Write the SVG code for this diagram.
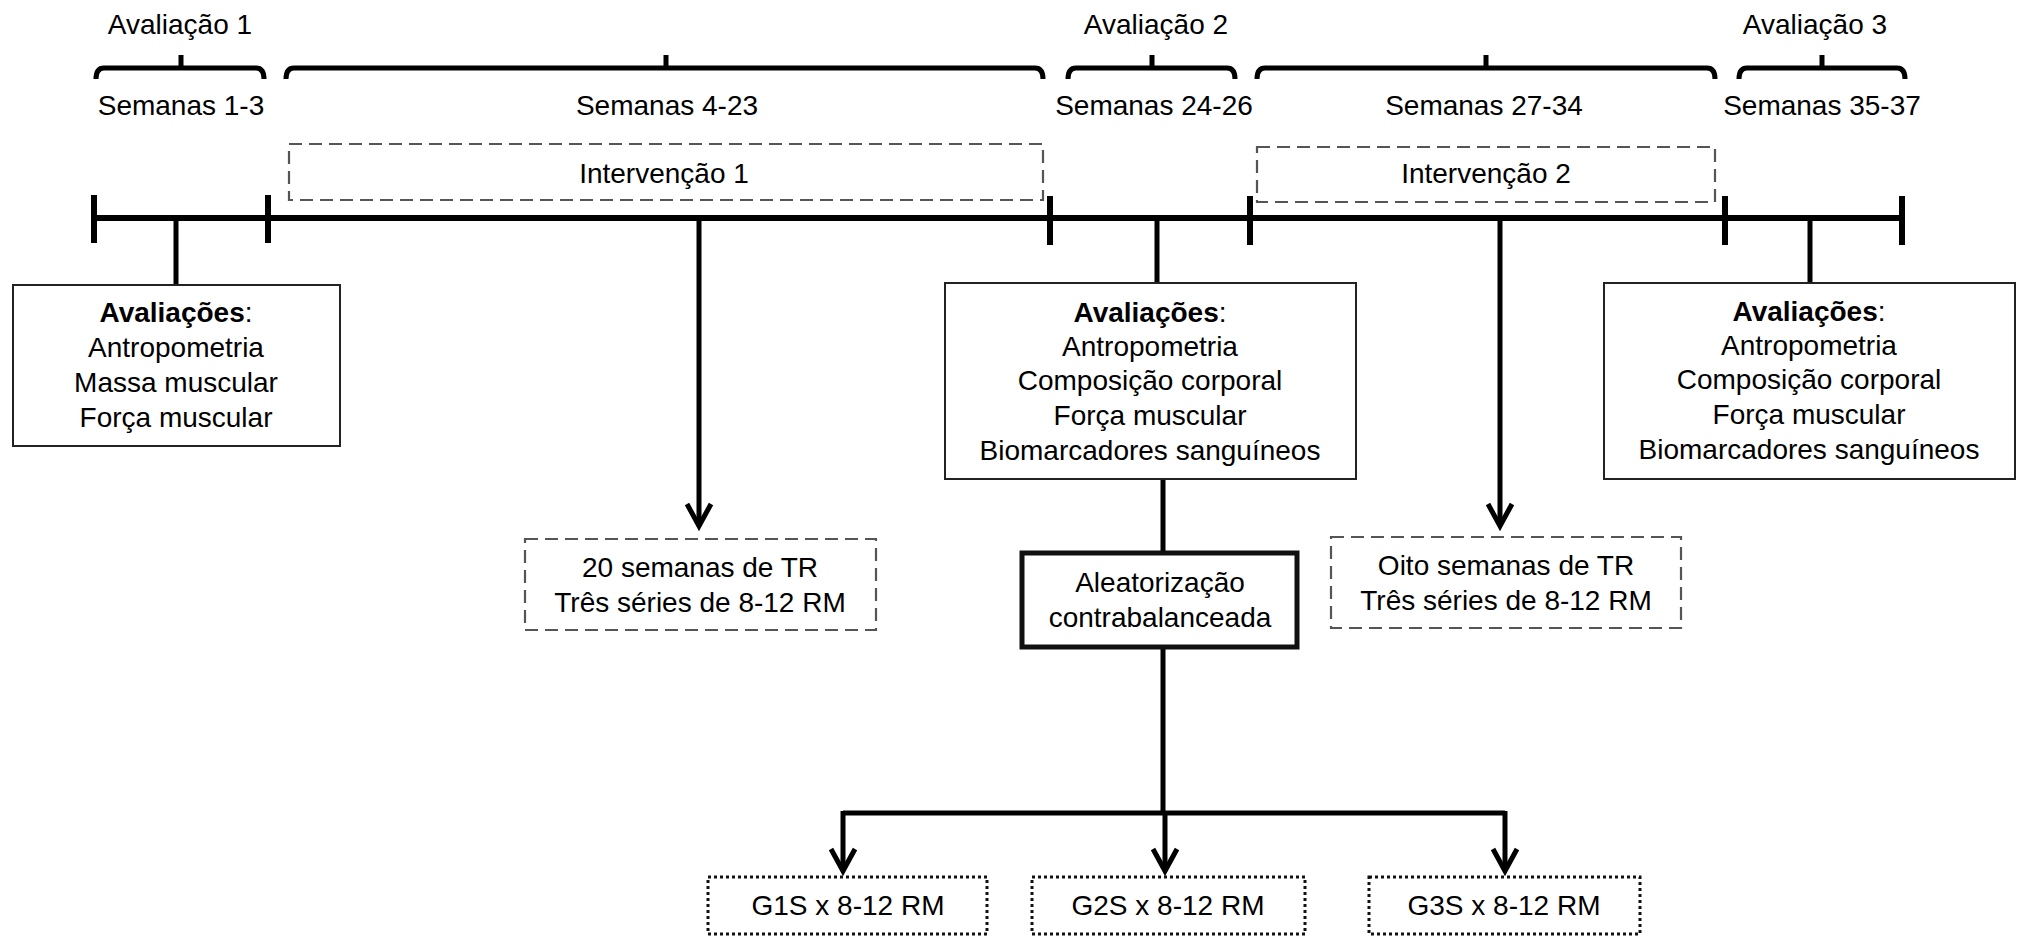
<svg xmlns="http://www.w3.org/2000/svg" width="2022" height="937" viewBox="0 0 2022 937">
<style>
text{font-family:"Liberation Sans",Arial,sans-serif;font-size:28px;fill:#000;text-anchor:middle}
.b{font-weight:bold}
.box{fill:#fff;stroke:#222;stroke-width:2}
.thick{fill:#fff;stroke:#111;stroke-width:5}
.dash{fill:none;stroke:#555;stroke-width:2.2;stroke-dasharray:13 7}
.dot{fill:#fff;stroke:#111;stroke-width:3;stroke-dasharray:3 3}
.br{fill:none;stroke:#000;stroke-width:5;stroke-linecap:butt}
.tl{fill:none;stroke:#000;stroke-width:6}
.ln{fill:none;stroke:#000;stroke-width:5}
</style>
<defs>
<marker id="arr" markerUnits="userSpaceOnUse" orient="auto" refX="0" refY="0" markerWidth="30" markerHeight="30" viewBox="-26 -15 30 30" overflow="visible">
<path d="M-22,-12 L0,0 L-22,12" fill="none" stroke="#000" stroke-width="5" stroke-linejoin="miter"/>
</marker>
</defs>

<g id="labels-top">
<text x="180" y="34">Avaliação 1</text>
<text x="1156" y="34">Avaliação 2</text>
<text x="1815" y="34">Avaliação 3</text>
<text x="181" y="115">Semanas 1-3</text>
<text x="667" y="115">Semanas 4-23</text>
<text x="1154" y="115">Semanas 24-26</text>
<text x="1484" y="115">Semanas 27-34</text>
<text x="1822" y="115">Semanas 35-37</text>
</g>

<g id="brackets">
<path class="br" d="M96,79 Q96,68 104,68 L256,68 Q264,68 264,79 M181,68 V55"/>
<path class="br" d="M286,79 Q286,68 294,68 L1035,68 Q1043,68 1043,79 M666,68 V55"/>
<path class="br" d="M1068,79 Q1068,68 1076,68 L1227,68 Q1235,68 1235,79 M1152,68 V55"/>
<path class="br" d="M1257,79 Q1257,68 1265,68 L1707,68 Q1715,68 1715,79 M1486,68 V55"/>
<path class="br" d="M1739,79 Q1739,68 1747,68 L1897,68 Q1905,68 1905,79 M1822,68 V55"/>
</g>

<g id="intervencao1">
<rect class="dash" x="289" y="144" width="754" height="56"/>
<text x="664" y="183">Intervenção 1</text>
</g>
<g id="intervencao2">
<rect class="dash" x="1257" y="147" width="458" height="55"/>
<text x="1486" y="183">Intervenção 2</text>
</g>

<g id="timeline">
<path class="tl" d="M94,218 H1902"/>
<path class="tl" d="M94,195 V243 M268,195 V243 M1050,196 V245 M1250,196 V245 M1725,196 V245 M1902,196 V245"/>
</g>

<g id="connectors">
<path class="ln" d="M176,218 V285"/>
<path class="ln" d="M1157,218 V283"/>
<path class="ln" d="M1810,218 V283"/>
<path class="ln" d="M699,218 V526" marker-end="url(#arr)"/>
<path class="ln" d="M1500,218 V526" marker-end="url(#arr)"/>
<path class="ln" d="M1163,479 V553"/>
<path class="ln" d="M1163,647 V813"/>
<path class="ln" d="M843,813 H1505"/>
<path class="ln" d="M843,811 V871" marker-end="url(#arr)"/>
<path class="ln" d="M1165,813 V871" marker-end="url(#arr)"/>
<path class="ln" d="M1505,811 V871" marker-end="url(#arr)"/>
</g>

<g id="avaliacoes1">
<rect class="box" x="13" y="285" width="327" height="161"/>
<text x="176" y="322"><tspan class="b">Avaliações</tspan>:</text>
<text x="176" y="357">Antropometria</text>
<text x="176" y="392">Massa muscular</text>
<text x="176" y="427">Força muscular</text>
</g>

<g id="avaliacoes2">
<rect class="box" x="945" y="283" width="411" height="196"/>
<text x="1150" y="322"><tspan class="b">Avaliações</tspan>:</text>
<text x="1150" y="356">Antropometria</text>
<text x="1150" y="390">Composição corporal</text>
<text x="1150" y="425">Força muscular</text>
<text x="1150" y="460">Biomarcadores sanguíneos</text>
</g>

<g id="avaliacoes3">
<rect class="box" x="1604" y="283" width="411" height="196"/>
<text x="1809" y="321"><tspan class="b">Avaliações</tspan>:</text>
<text x="1809" y="355">Antropometria</text>
<text x="1809" y="389">Composição corporal</text>
<text x="1809" y="424">Força muscular</text>
<text x="1809" y="459">Biomarcadores sanguíneos</text>
</g>

<g id="tr20">
<rect class="dash" x="525" y="539" width="351" height="91"/>
<text x="700" y="577">20 semanas de TR</text>
<text x="700" y="612">Três séries de 8-12 RM</text>
</g>

<g id="aleatorizacao">
<rect class="thick" x="1022" y="553" width="275" height="94"/>
<text x="1160" y="592">Aleatorização</text>
<text x="1160" y="627">contrabalanceada</text>
</g>

<g id="tr8">
<rect class="dash" x="1331" y="537" width="350" height="91"/>
<text x="1506" y="575">Oito semanas de TR</text>
<text x="1506" y="610">Três séries de 8-12 RM</text>
</g>

<g id="g1">
<rect class="dot" x="708" y="877" width="279" height="57"/>
<text x="848" y="915">G1S x 8-12 RM</text>
</g>
<g id="g2">
<rect class="dot" x="1032" y="877" width="273" height="57"/>
<text x="1168" y="915">G2S x 8-12 RM</text>
</g>
<g id="g3">
<rect class="dot" x="1369" y="877" width="271" height="57"/>
<text x="1504" y="915">G3S x 8-12 RM</text>
</g>
</svg>
